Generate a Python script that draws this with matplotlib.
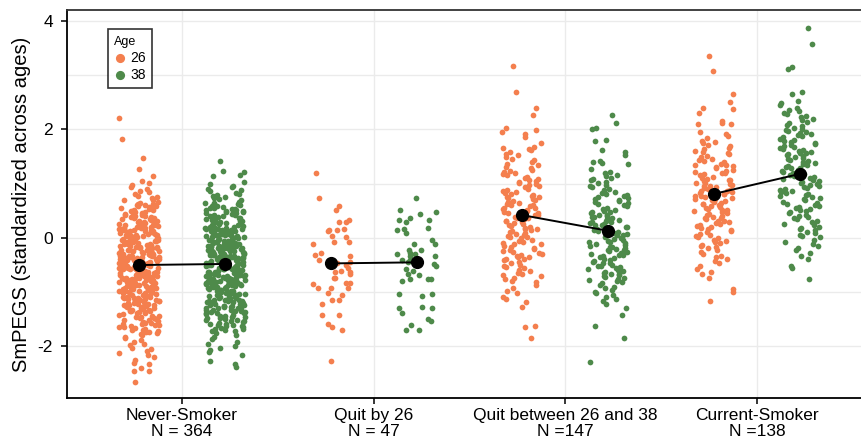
import numpy as np
import matplotlib.pyplot as plt

# Font: Arial-like
plt.rcParams['font.family'] = ['Liberation Sans', 'DejaVu Sans']

# Categories and tick labels
GROUPS = ['Never-Smoker\nN = 364', 'Quit by 26\nN = 47',
          'Quit between 26 and 38\nN =147', 'Current-Smoker\nN =138']
AGES = ['26', '38']

COLOR_26 = '#F47F4E'
COLOR_38 = '#4E8A4A'

# Group means
MEANS_26 = [-0.50, -0.47, 0.42, 0.81]
MEANS_38 = [-0.48, -0.45, 0.13, 1.18]

# SmPEGS values per person, read (roughly) off the strips
never_26 = [
    2.21, 1.82, 1.47, 1.27, 1.14, 1.05, 1.01,
    0.98, 0.94, 0.91, 0.87, 0.84, 0.80, 0.78, 0.75, 0.73, 0.70, 0.69, 0.66, 0.65, 0.63, 0.62, 0.61, 0.61, 0.60,
    0.59, 0.58, 0.56, 0.55, 0.53, 0.52, 0.51, 0.49, 0.48, 0.47, 0.46, 0.44, 0.43, 0.42, 0.41, 0.40, 0.38, 0.37,
    0.36, 0.35, 0.34, 0.33, 0.32, 0.31, 0.30, 0.29, 0.28, 0.27, 0.27, 0.26, 0.25, 0.24, 0.24, 0.23, 0.22, 0.22,
    0.21, 0.21, 0.20, 0.57, 0.50, 0.45, 0.39, 0.29, 0.25,
    0.19, 0.18, 0.17, 0.16, 0.15, 0.14, 0.13, 0.12, 0.11, 0.10, 0.09, 0.08, 0.07, 0.06, 0.05, 0.04, 0.03, 0.02,
    0.01, 0.00, -0.01, -0.02, -0.03, -0.04, -0.05, -0.06, -0.07, -0.08, -0.09, -0.10, -0.11, -0.12, -0.13, -0.14,
    -0.15, -0.16, -0.17, -0.18, -0.19, -0.20, 0.17, 0.12, 0.08, 0.03, -0.02, -0.06, -0.11, -0.15, -0.18, 0.15,
    0.06, -0.04, -0.09, -0.13, 0.10, 0.01, -0.07, -0.16, 0.19, -0.12,
    -0.21, -0.22, -0.23, -0.24, -0.25, -0.26, -0.27, -0.28, -0.29, -0.30, -0.31, -0.32, -0.33, -0.34, -0.35,
    -0.36, -0.37, -0.38, -0.39, -0.40, -0.41, -0.42, -0.43, -0.44, -0.45, -0.46, -0.47, -0.48, -0.49, -0.50,
    -0.51, -0.52, -0.53, -0.54, -0.55, -0.56, -0.57, -0.58, -0.59, -0.22, -0.24, -0.27, -0.29, -0.31, -0.33,
    -0.36, -0.38, -0.40, -0.42, -0.44, -0.46, -0.48, -0.50, -0.52, -0.54, -0.56, -0.58, -0.23, -0.26, -0.30,
    -0.35, -0.39, -0.43, -0.47, -0.51, -0.55, -0.57, -0.25, -0.34, -0.45,
    -0.61, -0.62, -0.63, -0.64, -0.65, -0.66, -0.67, -0.68, -0.69, -0.70, -0.71, -0.72, -0.73, -0.74, -0.75,
    -0.76, -0.77, -0.78, -0.79, -0.80, -0.81, -0.82, -0.83, -0.84, -0.85, -0.86, -0.87, -0.88, -0.89, -0.90,
    -0.91, -0.92, -0.93, -0.94, -0.95, -0.96, -0.97, -0.98, -0.99, -0.62, -0.64, -0.67, -0.69, -0.72, -0.74,
    -0.77, -0.79, -0.82, -0.84, -0.87, -0.89, -0.92, -0.94, -0.97, -0.63, -0.68, -0.73, -0.78, -0.83, -0.88,
    -0.93, -0.98, -0.66, -0.76, -0.86,
    -1.01, -1.02, -1.04, -1.05, -1.07, -1.08, -1.10, -1.11, -1.13, -1.14, -1.16, -1.17, -1.19, -1.20, -1.22,
    -1.23, -1.25, -1.26, -1.28, -1.29, -1.31, -1.32, -1.34, -1.35, -1.37, -1.38, -1.39, -1.03, -1.06, -1.09,
    -1.12, -1.15, -1.18, -1.21, -1.24, -1.27, -1.30, -1.33, -1.36, -1.02, -1.08, -1.14, -1.20, -1.26, -1.32,
    -1.11, -1.23, -1.35,
    -1.41, -1.43, -1.44, -1.46, -1.48, -1.49, -1.51, -1.53, -1.55, -1.56, -1.58, -1.60, -1.62, -1.64, -1.65,
    -1.67, -1.69, -1.71, -1.73, -1.75, -1.77, -1.79, -1.42, -1.47, -1.52, -1.57, -1.61, -1.66, -1.70, -1.74,
    -1.45, -1.59,
    -1.82, -1.85, -1.88, -1.91, -1.95, -1.98, -2.02, -2.05, -2.09, -2.12, -2.15, -2.19,
    -2.25, -2.30, -2.32, -2.39, -2.45, -2.46, -2.65,
]

never_38 = [
    1.42, 1.23, 1.22, 1.16, 1.14, 1.03,
    0.99, 0.96, 0.94, 0.91, 0.88, 0.86, 0.83, 0.81, 0.79, 0.77, 0.75, 0.73, 0.71, 0.69, 0.67, 0.65, 0.64, 0.63,
    0.62, 0.61,
    0.59, 0.58, 0.57, 0.56, 0.55, 0.54, 0.53, 0.52, 0.51, 0.50, 0.49, 0.48, 0.47, 0.46, 0.45, 0.44, 0.43, 0.42,
    0.41, 0.40, 0.39, 0.38, 0.37, 0.36, 0.35, 0.34, 0.33, 0.32, 0.31, 0.30, 0.29, 0.28, 0.27, 0.26, 0.25, 0.24,
    0.23, 0.22, 0.21, 0.20, 0.48, 0.33,
    0.19, 0.18, 0.17, 0.16, 0.15, 0.14, 0.13, 0.12, 0.11, 0.10, 0.09, 0.08, 0.07, 0.06, 0.05, 0.04, 0.03, 0.02,
    0.01, 0.00, -0.01, -0.02, -0.03, -0.04, -0.05, -0.06, -0.07, -0.08, -0.09, -0.10, -0.11, -0.12, -0.13,
    -0.14, -0.15, -0.16, -0.17, -0.18, -0.19, -0.20, 0.16, 0.13, 0.07, 0.04, -0.03, -0.05, -0.12, -0.14, -0.19,
    0.14, 0.05, -0.06, -0.08, -0.15, 0.11, 0.02, -0.09, -0.17, 0.18, -0.11, 0.06, -0.10,
    -0.21, -0.22, -0.23, -0.24, -0.25, -0.26, -0.27, -0.28, -0.29, -0.30, -0.31, -0.32, -0.33, -0.34, -0.35,
    -0.36, -0.37, -0.38, -0.39, -0.40, -0.41, -0.42, -0.43, -0.44, -0.45, -0.46, -0.47, -0.48, -0.49, -0.50,
    -0.51, -0.52, -0.53, -0.54, -0.55, -0.56, -0.57, -0.58, -0.59, -0.21, -0.23, -0.26, -0.28, -0.30, -0.32,
    -0.35, -0.37, -0.39, -0.41, -0.43, -0.45, -0.47, -0.49, -0.51, -0.53, -0.55, -0.57, -0.24, -0.27, -0.31,
    -0.34, -0.38, -0.42, -0.46, -0.50, -0.54, -0.58, -0.25, -0.33, -0.44, -0.52, -0.29,
    -0.61, -0.62, -0.63, -0.64, -0.65, -0.66, -0.67, -0.68, -0.69, -0.70, -0.71, -0.72, -0.73, -0.74, -0.75,
    -0.76, -0.77, -0.78, -0.79, -0.80, -0.81, -0.82, -0.83, -0.84, -0.85, -0.86, -0.87, -0.88, -0.89, -0.90,
    -0.91, -0.92, -0.93, -0.94, -0.95, -0.96, -0.97, -0.98, -0.99, -0.61, -0.63, -0.66, -0.68, -0.71, -0.73,
    -0.76, -0.78, -0.81, -0.83, -0.86, -0.88, -0.91, -0.93, -0.96, -0.62, -0.67, -0.72, -0.77, -0.82, -0.87,
    -0.92, -0.97, -0.65, -0.75, -0.85, -0.95, -0.70, -0.80,
    -1.01, -1.02, -1.03, -1.05, -1.06, -1.08, -1.09, -1.11, -1.12, -1.14, -1.15, -1.17, -1.18, -1.20, -1.21,
    -1.23, -1.24, -1.26, -1.27, -1.29, -1.30, -1.32, -1.33, -1.35, -1.36, -1.38, -1.39, -1.04, -1.07, -1.10,
    -1.13, -1.16, -1.19, -1.22, -1.25, -1.28, -1.31, -1.34, -1.37, -1.02, -1.08, -1.14, -1.20, -1.26, -1.32,
    -1.11, -1.23, -1.35, -1.05, -1.17, -1.29, -1.38,
    -1.41, -1.43, -1.44, -1.46, -1.48, -1.50, -1.52, -1.54, -1.56, -1.58, -1.60, -1.62, -1.64, -1.66, -1.68,
    -1.70, -1.72, -1.75, -1.78, -1.42, -1.47, -1.51, -1.55, -1.59, -1.63, -1.67, -1.71, -1.45, -1.53, -1.61,
    -1.86, -1.95, -2.02, -2.10, -1.83, -1.91, -1.99, -2.06, -2.15,
    -2.27, -2.32, -2.38,
]

quit26_26 = [
    1.20, 0.74, 0.58, 0.52, 0.33, 0.30, 0.30, 0.14, 0.12, 0.17, 0.15, 0.02, 0.03, -0.07, -0.12, -0.07,
    -0.28, -0.33, -0.31, -0.47, -0.62, -0.62, -0.61, -0.66, -0.74, -0.74, -0.85, -0.92, -0.93, -0.83,
    -0.84, -0.92, -1.01, -1.05, -1.14, -1.15, -1.22, -1.42, -1.42, -1.64, -1.69, -1.58, -2.27,
    -0.45, -0.50, -0.40, -0.55,
]

quit26_38 = [
    0.74, 0.44, 0.51, 0.48, 0.37, 0.33, 0.29, 0.33, 0.18, 0.16, 0.15, 0.09, -0.04, -0.11, -0.12, -0.23,
    -0.23, -0.28, -0.29, -0.29, -0.34, -0.34, -0.40, -0.41, -0.48, -0.52, -0.61, -0.66, -0.69, -0.58,
    -0.75, -0.75, -0.75, -0.80, -1.04, -1.04, -1.07, -1.27, -1.30, -1.30, -1.38, -1.50, -1.53, -1.61,
    -1.69, -1.69, -0.45,
]

quitbetw_26 = [
    3.17, 2.69, 2.39, 2.27, 2.02,
    1.98, 1.95, 1.92, 1.85, 1.75, 1.68, 1.65, 1.63, 1.62,
    1.58, 1.55, 1.52, 1.49, 1.46, 1.43, 1.40, 1.37, 1.34, 1.31, 1.28, 1.26, 1.23, 1.21,
    1.19, 1.17, 1.15, 1.13, 1.11, 1.09, 1.07, 1.05, 1.03, 1.01, 0.99, 0.97, 0.95, 0.93, 0.91, 0.89, 0.87,
    0.85, 0.83, 0.81,
    0.79, 0.78, 0.76, 0.75, 0.73, 0.71, 0.70, 0.68, 0.66, 0.65, 0.63, 0.61, 0.60, 0.58, 0.56, 0.55, 0.53,
    0.51, 0.50, 0.48, 0.46, 0.45, 0.43, 0.42, 0.41,
    0.39, 0.37, 0.36, 0.34, 0.32, 0.31, 0.29, 0.27, 0.26, 0.24, 0.22, 0.21, 0.19, 0.17, 0.16, 0.14, 0.12,
    0.11, 0.09, 0.07, 0.06, 0.04, 0.02, 0.01,
    -0.01, -0.03, -0.05, -0.07, -0.09, -0.11, -0.12, -0.14, -0.16, -0.18, -0.20, -0.22, -0.24, -0.26, -0.28,
    -0.29, -0.31, -0.33, -0.35, -0.36, -0.38, -0.39,
    -0.41, -0.44, -0.46, -0.49, -0.51, -0.54, -0.56, -0.59, -0.61, -0.64, -0.66, -0.69, -0.71, -0.74, -0.76,
    -0.79,
    -0.82, -0.87, -0.92, -0.97, -1.02, -1.08, -1.12, -1.18,
    -1.28, -1.63, -1.65, -1.85,
]

quitbetw_38 = [
    2.27, 2.11, 2.02, 2.01, 1.80, 1.78, 1.62,
    1.58, 1.52, 1.42, 1.40, 1.38, 1.36, 1.27, 1.22,
    1.19, 1.16, 1.14, 1.11, 1.08, 1.06, 1.03, 1.01, 0.98, 0.95, 0.93, 0.90, 0.88, 0.85, 0.83, 0.81,
    0.79, 0.77, 0.75, 0.73, 0.71, 0.70, 0.68, 0.66, 0.64, 0.62, 0.60, 0.58, 0.56, 0.54, 0.52, 0.50, 0.48,
    0.47, 0.45, 0.43, 0.42, 0.41,
    0.39, 0.38, 0.36, 0.35, 0.33, 0.32, 0.30, 0.29, 0.27, 0.26, 0.24, 0.23, 0.21, 0.20, 0.18, 0.17, 0.15,
    0.14, 0.12, 0.11, 0.09, 0.08, 0.06, 0.05, 0.03, 0.01,
    -0.01, -0.02, -0.04, -0.05, -0.07, -0.08, -0.10, -0.11, -0.13, -0.14, -0.16, -0.17, -0.19, -0.20, -0.22,
    -0.23, -0.25, -0.26, -0.28, -0.29, -0.31, -0.32, -0.34, -0.35, -0.37, -0.39,
    -0.41, -0.42, -0.44, -0.46, -0.47, -0.49, -0.51, -0.52, -0.54, -0.56, -0.57, -0.59, -0.61, -0.62, -0.64,
    -0.66, -0.67, -0.69, -0.71, -0.72, -0.74, -0.76, -0.77, -0.79,
    -0.81, -0.84, -0.87, -0.90, -0.93, -0.96, -0.99, -1.02, -1.06, -1.09, -1.13, -1.17,
    -1.22, -1.30, -1.42, -1.62, -1.85, -2.29,
]

current_26 = [
    3.36, 3.07, 2.66, 2.51, 2.40, 2.38, 2.30,
    2.16, 2.12, 2.10, 2.09, 1.95, 1.92, 1.88, 1.84,
    1.79, 1.76, 1.74, 1.71, 1.69, 1.66, 1.64, 1.61, 1.59, 1.56, 1.54, 1.51, 1.49, 1.46, 1.44, 1.41,
    1.39, 1.37, 1.35, 1.34, 1.32, 1.30, 1.28, 1.26, 1.24, 1.22, 1.20, 1.19, 1.17, 1.15, 1.13, 1.11, 1.09,
    1.07, 1.06, 1.04, 1.02, 1.01,
    0.99, 0.98, 0.96, 0.95, 0.93, 0.92, 0.90, 0.89, 0.87, 0.86, 0.84, 0.83, 0.81, 0.80, 0.78, 0.77, 0.75,
    0.74, 0.72, 0.71, 0.69, 0.68, 0.66, 0.65, 0.63, 0.62, 0.61,
    0.59, 0.57, 0.56, 0.54, 0.52, 0.51, 0.49, 0.47, 0.46, 0.44, 0.42, 0.41, 0.39, 0.37, 0.36, 0.34, 0.32,
    0.31, 0.29, 0.27, 0.26, 0.24, 0.22, 0.21,
    0.19, 0.17, 0.15, 0.12, 0.10, 0.08, 0.05, 0.03, 0.01, -0.01, -0.03, -0.06, -0.08, -0.10, -0.13, -0.15,
    -0.17, -0.19,
    -0.22, -0.26, -0.30, -0.34, -0.36, -0.39, -0.43, -0.47, -0.52, -0.58,
    -0.62, -0.67, -0.73, -0.95, -0.99, -1.16,
]

current_38 = [
    3.86, 3.57, 3.14, 3.12, 2.69, 2.66, 2.52, 2.49, 2.45,
    2.39, 2.36, 2.33, 2.31, 2.28, 2.25, 2.22, 2.19, 2.17, 2.14, 2.11, 2.08, 2.06, 2.03, 2.01,
    1.99, 1.97, 1.95, 1.93, 1.91, 1.89, 1.87, 1.85, 1.83, 1.81, 1.79, 1.77, 1.75, 1.73, 1.71, 1.69, 1.67,
    1.65, 1.63, 1.62, 1.61,
    1.59, 1.57, 1.56, 1.54, 1.52, 1.50, 1.49, 1.47, 1.45, 1.43, 1.42, 1.40, 1.38, 1.36, 1.35, 1.33, 1.31,
    1.29, 1.28, 1.26, 1.24, 1.22, 1.21,
    1.19, 1.17, 1.15, 1.14, 1.12, 1.10, 1.08, 1.06, 1.04, 1.03, 1.01, 0.99, 0.97, 0.95, 0.93, 0.92, 0.90,
    0.88, 0.86, 0.84, 0.82, 0.81,
    0.79, 0.77, 0.75, 0.73, 0.71, 0.69, 0.67, 0.65, 0.63, 0.61, 0.59, 0.57, 0.55, 0.53, 0.51, 0.49, 0.47,
    0.45, 0.43, 0.41,
    0.39, 0.36, 0.34, 0.31, 0.29, 0.26, 0.24, 0.21, 0.19, 0.16, 0.14, 0.11, 0.09, 0.06, 0.04, 0.01,
    -0.03, -0.07, -0.12, -0.15, -0.19, -0.23, -0.28, -0.33, -0.38,
    -0.52, -0.56, -0.75,
]

VALUES_26 = [never_26, quit26_26, quitbetw_26, current_26]
VALUES_38 = [never_38, quit26_38, quitbetw_38, current_38]

DODGE = 0.225      # offset of each age from the category centre
JITTER = 0.105     # half width of the jitter


def jitter(n, shift):
    # deterministic spread of horizontal offsets (quadratic Weyl sequence,
    # so sorted values do not line up in diagonal stripes)
    i = np.arange(n, dtype=float)
    frac = (i * i * 0.7071067812 + i * 0.3819660113 + shift) % 1
    return (frac * 2 - 1) * JITTER


fig = plt.figure(figsize=(8.61, 4.42), dpi=100)
ax = fig.add_axes([0.0778, 0.0995, 0.9222, 0.878])

xpos = np.arange(1, len(GROUPS) + 1)

for k, x in enumerate(xpos):
    y26 = np.array(VALUES_26[k])
    y38 = np.array(VALUES_38[k])
    ax.scatter(x - DODGE + jitter(len(y26), 0.13 * k), y26, s=17, color=COLOR_26,
               linewidths=0, zorder=3, label=AGES[0] if k == 0 else None)
    ax.scatter(x + DODGE + jitter(len(y38), 0.37 + 0.11 * k), y38, s=17, color=COLOR_38,
               linewidths=0, zorder=3, label=AGES[1] if k == 0 else None)

    # mean at each age, joined by a line
    ax.plot([x - DODGE, x + DODGE], [MEANS_26[k], MEANS_38[k]], color='black', lw=1.4, zorder=4)
    ax.plot([x - DODGE, x + DODGE], [MEANS_26[k], MEANS_38[k]], 'o', color='black',
            markersize=8.5, zorder=5)

# Axes limits and ticks
ax.set_xlim(0.4, 4.543)
ax.set_ylim(-2.95, 4.2)
ax.set_xticks(xpos)
ax.set_xticklabels(GROUPS, fontsize=12.5, linespacing=1.1)
ax.set_yticks([-2, 0, 2, 4])
ax.set_yticklabels(['-2', '0', '2', '4'], fontsize=12.5)
ax.set_yticks([-1, 1, 3], minor=True)
ax.tick_params(axis='both', which='major', direction='out', length=4, width=1.1, color='black',
               labelcolor='black', pad=3)
ax.tick_params(axis='y', which='major', pad=6)
ax.tick_params(axis='y', which='minor', length=0)
ax.set_ylabel('SmPEGS (standardized across ages)', fontsize=14.5, labelpad=5)

# Grid
ax.grid(True, which='major', color='#EBEBEB', lw=1.0, zorder=0)
ax.grid(True, which='minor', axis='y', color='#EBEBEB', lw=1.0, zorder=0)
ax.set_axisbelow(True)

# Panel border
for side in ['left', 'bottom']:
    ax.spines[side].set_linewidth(1.3)
    ax.spines[side].set_color('black')
ax.spines['top'].set_linewidth(1.3)
ax.spines['top'].set_color('#333333')
ax.spines['right'].set_visible(False)

# Legend
leg = ax.legend(title='Age', loc='upper left', bbox_to_anchor=(0.043, 0.968),
                fontsize=10, title_fontsize=9, markerscale=1.6, frameon=True,
                fancybox=False, edgecolor='black', borderpad=0.45, labelspacing=0.22,
                handlelength=0.8, handletextpad=0.35, alignment='left')
leg.get_frame().set_linewidth(1.2)

fig.savefig('out.png', dpi=100)
